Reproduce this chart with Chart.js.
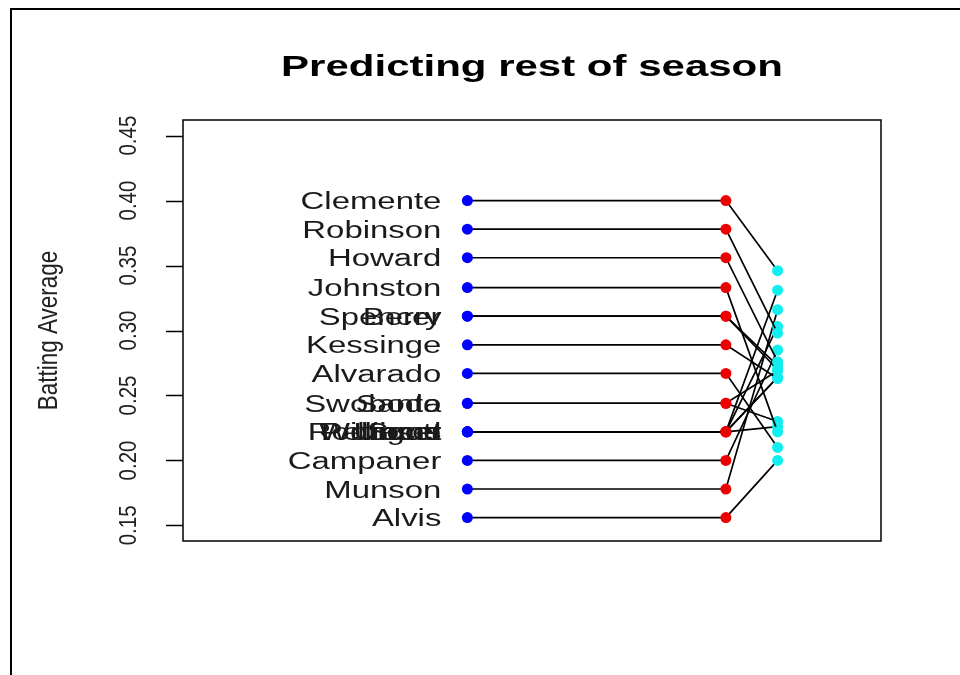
<!DOCTYPE html>
<html>
<head>
<meta charset="utf-8">
<script src="https://cdn.jsdelivr.net/npm/chart.js@4.4.1/dist/chart.umd.min.js"></script>
<style>
  html, body { margin: 0; padding: 0; background: #ffffff; }
  #wrap { width: 960px; height: 675px; position: relative; }
</style>
</head>
<body>
<div id="wrap"><canvas id="chart" width="960" height="675"></canvas></div>
<script>
// Players (names as stored, cut to 8 characters)
const players = ["Clemente", "Robinson", "Howard", "Johnston", "Spencer", "Berry",
  "Kessinge", "Alvarado", "Swoboda", "Santo", "Rodrigue", "Petrocel", "Scott",
  "Williams", "Unser", "Campaner", "Munson", "Alvis"];

// Average over the first 45 at-bats
const firstAvg = [0.400, 0.378, 0.356, 0.333, 0.311, 0.311, 0.289, 0.267, 0.244,
  0.244, 0.222, 0.222, 0.222, 0.222, 0.222, 0.200, 0.178, 0.156];

// Estimate carried forward for each player
const predicted = [0.400, 0.378, 0.356, 0.333, 0.311, 0.311, 0.289, 0.267, 0.244,
  0.244, 0.222, 0.222, 0.222, 0.222, 0.222, 0.200, 0.178, 0.156];

// Average over the rest of the season
const restAvg = [0.346, 0.298, 0.276, 0.222, 0.270, 0.273, 0.263, 0.210, 0.230,
  0.269, 0.226, 0.264, 0.303, 0.331, 0.264, 0.285, 0.316, 0.200];

// Horizontal positions of the three columns
const stageX = [1, 2, 2.2];

// Y axis tick values and labels
const yTicks = [0.15, 0.20, 0.25, 0.30, 0.35, 0.40, 0.45];
const yTickLabels = ["0.15", "0.20", "0.25", "0.30", "0.35", "0.40", "0.45"];

const FONT = '"Liberation Sans", Arial, Helvetica, sans-serif';
const STRETCH = 1.4;

function drawText(ctx, text, x, y, o) {
  ctx.save();
  ctx.translate(x, y);
  ctx.scale(o.sx || 1, 1);
  if (o.rotate) ctx.rotate(-Math.PI / 2);
  ctx.font = (o.weight || 'normal') + ' ' + o.size + 'px ' + FONT;
  ctx.fillStyle = o.color || '#111';
  ctx.textAlign = o.align || 'left';
  ctx.textBaseline = 'alphabetic';
  ctx.fillText(text, 0, 0);
  ctx.restore();
}

const decorations = {
  id: 'decorations',
  afterDraw(chart) {
    const ctx = chart.ctx;
    const area = chart.chartArea;
    const xs = chart.scales.x;
    const ys = chart.scales.y;

    // outer frame (top and left edges)
    ctx.save();
    ctx.fillStyle = '#000';
    ctx.fillRect(10, 8, 950, 2);
    ctx.fillRect(10, 8, 2, 667);
    ctx.restore();

    // plot box
    ctx.save();
    ctx.strokeStyle = '#000';
    ctx.lineWidth = 1.5;
    ctx.strokeRect(area.left, area.top, area.right - area.left, area.bottom - area.top);

    // y axis ticks
    ctx.beginPath();
    yTicks.forEach(v => {
      const py = Math.round(ys.getPixelForValue(v)) + 0.5;
      ctx.moveTo(area.left - 17, py);
      ctx.lineTo(area.left, py);
    });
    ctx.stroke();
    ctx.restore();

    // y tick labels (rotated)
    yTicks.forEach((v, i) => {
      drawText(ctx, yTickLabels[i], 136, ys.getPixelForValue(v),
        { size: 20.5, sx: 1.2, rotate: true, align: 'center', color: '#222' });
    });

    // y axis title
    drawText(ctx, 'Batting Average', 57, (area.top + area.bottom) / 2,
      { size: 22.5, sx: 1.24, rotate: true, align: 'center', color: '#222' });

    // chart title
    drawText(ctx, 'Predicting rest of season', (area.left + area.right) / 2, 76,
      { size: 30, sx: STRETCH, weight: 'bold', align: 'center', color: '#000' });

    // player names to the left of the first column
    const nameX = xs.getPixelForValue(stageX[0]) - 26;
    players.forEach((name, i) => {
      drawText(ctx, name, nameX, ys.getPixelForValue(firstAvg[i]) + 8.5,
        { size: 23.5, sx: STRETCH, align: 'right', color: '#1a1a1a' });
    });
  }
};

const datasets = players.map((name, i) => ({
  label: name,
  data: [
    { x: stageX[0], y: firstAvg[i] },
    { x: stageX[1], y: predicted[i] },
    { x: stageX[2], y: restAvg[i] }
  ],
  showLine: true,
  borderColor: '#000',
  borderWidth: 1.7,
  pointRadius: 5.5,
  pointBorderWidth: 0,
  pointBackgroundColor: ['#0000ff', '#ee0000', '#10eef0'],
  pointBorderColor: ['#0000ff', '#ee0000', '#10eef0']
}));

new Chart(document.getElementById('chart'), {
  type: 'scatter',
  data: { datasets },
  options: {
    responsive: false,
    animation: false,
    events: [],
    layout: { padding: { left: 183, right: 79, top: 120, bottom: 134 } },
    scales: {
      x: { type: 'linear', min: -0.1, max: 2.6, display: false },
      y: { type: 'linear', min: 0.138, max: 0.462, display: false }
    },
    plugins: {
      legend: { display: false },
      tooltip: { enabled: false },
      title: { display: false }
    }
  },
  plugins: [decorations]
});
</script>
</body>
</html>
